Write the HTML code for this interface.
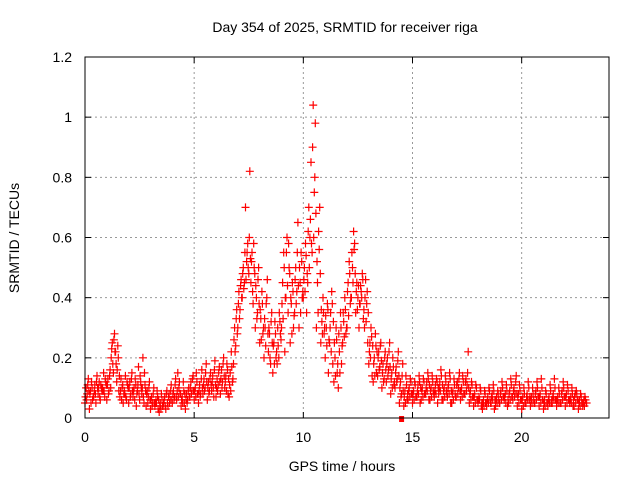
<!DOCTYPE html>
<html><head><meta charset="utf-8"><style>
body{margin:0;background:#fff}
svg{display:block;font-family:"Liberation Sans",sans-serif}
</style></head><body>
<svg id="chart" width="640" height="480" xmlns="http://www.w3.org/2000/svg">
<text x="345" y="32" font-size="14" text-anchor="middle" fill="#000">Day 354 of 2025, SRMTID for receiver riga</text>
<text x="342" y="471" font-size="14" text-anchor="middle" fill="#000">GPS time / hours</text>
<text transform="translate(19,238) rotate(-90)" font-size="14" text-anchor="middle" fill="#000">SRMTID / TECUs</text>
<g id="grid"></g>
<g id="ticks"></g>
<g id="points"></g>
<rect x="85" y="57" width="524" height="361" fill="none" stroke="#000" stroke-width="1"/>
</svg>
<script>
const xTicks=[0,5,10,15,20];
const yTicks=[0,0.2,0.4,0.6,0.8,1,1.2];
const yTickLabels=["0","0.2","0.4","0.6","0.8","1","1.2"];
const binStart=0, binWidth=0.2;
const seriesA=[.05,.03,.07,.08,.10,.06,.20,.22,.07,.09,.05,.07,.09,.08,.04,.03,.04,.02,.05,.04,.05,.06,.04,.03,.07,.06,.05,.08,.06,.09,.07,.08,.10,.07,.18,.30,.40,.52,.45,.30,.25,.20,.22,.15,.18,.30,.40,.25,.35,.30,.40,.45,.55,.30,.25,.20,.25,.12,.10,.25,.30,.40,.35,.38,.30,.18,.12,.14,.10,.12,.08,.10,.05,.04,.06,.05,.07,.06,.08,.06,.07,.08,.06,.07,.05,.07,.06,.08,.05,.04,.05,.03,.04,.05,.04,.05,.06,.05,.06,.04,.03,.05,.04,.05,.04,.03,.04,.05,.04,.05,.04,.05,.04,.03,.04];
const seriesB=[.10,.09,.11,.12,.15,.13,.25,.12,.13,.14,.12,.10,.17,.20,.09,.07,.06,.05,.07,.08,.09,.15,.07,.08,.12,.10,.11,.13,.12,.14,.13,.16,.14,.15,.30,.42,.50,.58,.55,.40,.33,.30,.28,.25,.24,.45,.60,.38,.50,.45,.50,.70,1.04,.45,.32,.30,.35,.20,.22,.32,.45,.50,.45,.42,.46,.25,.20,.22,.18,.20,.15,.17,.12,.09,.10,.09,.11,.10,.12,.10,.11,.12,.10,.11,.09,.12,.10,.13,.09,.08,.07,.06,.07,.08,.07,.09,.08,.09,.10,.08,.07,.08,.07,.09,.08,.06,.07,.08,.07,.09,.08,.07,.08,.06,.06];
const seriesC=[.08,.12,.05,.06,.07,.09,.15,.24,.10,.06,.08,.13,.06,.05,.07,.05,.09,.08,.03,.06,.07,.10,.12,.06,.09,.15,.08,.10,.09,.07,.11,.12,.18,.22,.24,.36,.45,.48,.38,.35,.42,.38,.18,.32,.35,.55,.35,.45,.42,.55,.58,.60,.75,.62,.40,.38,.42,.30,.35,.40,.52,.62,.40,.48,.38,.30,.28,.17,.13,.16,.20,.13,.08,.14,.13,.12,.14,.13,.15,.14,.13,.16,.14,.15,.13,.10,.14,.11,.12,.11,.10,.09,.10,.11,.09,.12,.11,.13,.08,.11,.10,.12,.10,.12,.13,.09,.11,.13,.10,.12,.11,.10,.09,.08,.07];
const seriesD=[.13,.06,.14,.10,.12,.16,.28,.09,.05,.11,.15,.04,.12,.11,.12,.10,.03,.04,.09,.11,.13,.08,.05,.10,.14,.08,.16,.18,.15,.19,.17,.20,.08,.12,.36,.46,.70,.82,.50,.50,.28,.46,.35,.20,.28,.22,.50,.30,.65,.40,.35,.85,.98,.70,.28,.15,.18,.15,.18,.28,.38,.58,.30,.33,.25,.14,.15,.25,.22,.25,.11,.22,.18,.06,.08,.07,.05,.08,.06,.09,.05,.06,.09,.05,.08,.15,.08,.22,.07,.06,.04,.05,.06,.03,.06,.07,.04,.07,.14,.06,.05,.06,.06,.07,.06,.05,.05,.06,.05,.07,.06,.04,.06,.05,.05];
const seriesE=[.07,.08,.09,.10,.09,.11,.23,.18,.09,.08,.10,.09,.11,.10,.08,.06,.05,.04,.06,.07,.08,.09,.06,.06,.10,.09,.09,.11,.10,.12,.10,.13,.12,.11,.26,.38,.48,.55,.52,.44,.36,.33,.30,.24,.30,.38,.55,.40,.46,.50,.46,.62,.90,.52,.36,.34,.30,.25,.28,.35,.42,.55,.42,.44,.40,.22,.18,.20,.15,.18,.13,.15,.10,.07,.09,.08,.09,.09,.10,.09,.09,.10,.09,.10,.08,.11,.09,.12,.08,.07,.06,.05,.06,.07,.06,.08,.07,.08,.09,.07,.06,.07,.06,.08,.07,.05,.06,.07,.06,.08,.07,.06,.07,.05,.05];
const seriesF=[.06,.05,.08,.07,.09,.08,.18,.16,.06,.07,.07,.06,.08,.07,.05,.04,.05,.03,.04,.05,.06,.07,.05,.05,.08,.07,.07,.09,.08,.10,.09,.10,.09,.09,.22,.33,.43,.50,.42,.33,.26,.24,.20,.18,.20,.33,.44,.28,.38,.35,.42,.50,.60,.35,.28,.24,.22,.14,.15,.27,.34,.45,.36,.40,.32,.20,.14,.16,.12,.14,.10,.12,.07,.05,.07,.06,.08,.07,.09,.07,.08,.09,.07,.08,.06,.08,.07,.09,.06,.05,.06,.04,.05,.06,.05,.06,.05,.06,.07,.05,.04,.06,.05,.06,.05,.04,.05,.06,.05,.06,.05,.05,.05,.04,.04];
const seriesG=[.11,.10,.12,.11,.13,.14,.26,.20,.11,.12,.13,.11,.14,.15,.10,.08,.07,.06,.08,.09,.11,.12,.09,.09,.13,.12,.13,.15,.13,.16,.15,.18,.16,.17,.33,.44,.55,.60,.58,.46,.38,.40,.32,.28,.32,.50,.58,.42,.55,.52,.54,.66,.80,.56,.35,.36,.38,.26,.30,.36,.48,.56,.44,.46,.42,.27,.24,.24,.20,.22,.17,.19,.14,.11,.12,.11,.12,.12,.13,.12,.12,.14,.12,.13,.11,.13,.12,.15,.11,.10,.09,.08,.09,.09,.08,.10,.09,.11,.12,.09,.08,.10,.08,.10,.10,.08,.09,.10,.08,.10,.09,.08,.08,.07,.06];
const seriesH=[.09,.07,.10,.09,.11,.10,.22,.14,.08,.10,.09,.08,.10,.09,.06,.05,.06,.04,.05,.06,.07,.08,.08,.07,.09,.08,.10,.12,.11,.11,.12,.14,.13,.13,.28,.40,.46,.53,.48,.38,.30,.28,.25,.22,.26,.40,.48,.34,.44,.42,.48,.58,.68,.48,.30,.26,.32,.18,.24,.30,.40,.48,.38,.36,.35,.24,.22,.19,.16,.17,.12,.14,.09,.08,.08,.07,.10,.08,.11,.08,.10,.11,.08,.09,.07,.09,.08,.10,.07,.06,.05,.05,.05,.06,.05,.07,.06,.07,.08,.06,.05,.07,.05,.07,.06,.05,.06,.06,.05,.07,.06,.06,.06,.05,.05];
const marker=[14.5,0];

const NS="http://www.w3.org/2000/svg";
const L=85,R=609,T=57,B=418,XMAX=24,YMAX=1.2;
function xs(v){return L+(R-L)*v/XMAX;}
function ys(v){return B-(B-T)*v/YMAX;}
function mk(tag,attrs,parent){const e=document.createElementNS(NS,tag);for(const k in attrs)e.setAttribute(k,attrs[k]);parent.appendChild(e);return e;}
const svg=document.getElementById('chart');
const grid=document.getElementById('grid'),ticks=document.getElementById('ticks'),pts=document.getElementById('points');
xTicks.forEach((t,i)=>{
  const x=xs(t);
  if(t>0){const g=mk('line',{x1:x,x2:x,y1:T,y2:B,stroke:'#999','stroke-dasharray':'2,3'},grid);
    
    }
  mk('line',{x1:x,x2:x,y1:B,y2:B-6,stroke:'#000'},ticks);
  mk('line',{x1:x,x2:x,y1:T,y2:T+6,stroke:'#000'},ticks);
  const tx=mk('text',{x:x,y:B+24,'font-size':14,'text-anchor':'middle'},svg);
  tx.textContent=String(t);
  
  
});
yTicks.forEach((t,i)=>{
  const y=ys(t);
  if(t>0&&t<YMAX){const g=mk('line',{x1:L,x2:R,y1:y,y2:y,stroke:'#999','stroke-dasharray':'2,3'},grid);
    
    }
  mk('line',{x1:L,x2:L+6,y1:y,y2:y,stroke:'#000'},ticks);
  mk('line',{x1:R,x2:R-6,y1:y,y2:y,stroke:'#000'},ticks);
  const tx=mk('text',{x:L-13,y:y+5,'font-size':14,'text-anchor':'end'},svg);
  tx.textContent=yTickLabels[i];
  
  
});
let d='';
const allSeries=[seriesA,seriesE,seriesB,seriesF,seriesC,seriesG,seriesD,seriesH];
allSeries.forEach((s,si)=>{
  s.forEach((v,k)=>{
    const x=xs(binStart+k*binWidth+si*binWidth/allSeries.length),y=ys(v);
    d+=`M${(x-4).toFixed(1)} ${y.toFixed(1)}h8M${x.toFixed(1)} ${(y-4).toFixed(1)}v8`;
  });
});
const p=mk('path',{d:d,stroke:'#f00','stroke-width':1.2,fill:'none'},pts);


const sq=mk('rect',{x:xs(marker[0])-2.5,y:ys(marker[1])-2,width:5,height:6,fill:'#f00'},pts);


</script>
</body></html>
